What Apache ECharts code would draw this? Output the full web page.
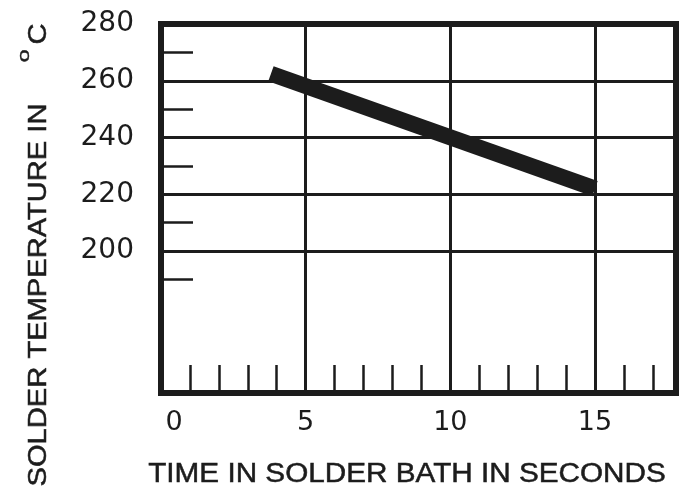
<!DOCTYPE html>
<html>
<head>
<meta charset="utf-8">
<script src="https://cdn.jsdelivr.net/npm/echarts@6/dist/echarts.min.js"></script>
<style>
  html, body { margin: 0; padding: 0; background: #fff; }
  #box { width: 695px; height: 489px; }
</style>
</head>
<body>
<div id="box"></div>
<script>
// solder band: time (s) vs temperature (C)
let bandTime = [3.8, 15];
let bandTemp = [262.5, 222];

// grid lines and ticks
let timeGrid = [5, 10, 15];
let tempGrid = [200, 220, 240, 260];
let timeTicks = [1, 2, 3, 4, 6, 7, 8, 9, 11, 12, 13, 14, 16, 17];
let tempTicks = [190, 210, 230, 250, 270];
let timeLabels = [0.45, 5, 10, 15];
let tempLabels = [200, 220, 240, 260, 280];

window.addEventListener('load', function () {
    let box = document.getElementById('box');
    let mychart = echarts.init(box);
    let ink = '#1c1c1c';

    let bandData = [];
    for (let i = 0; i < bandTime.length; i++) {
        bandData.push([bandTime[i], bandTemp[i]]);
    }
    let gridLines = [];
    timeGrid.forEach(v => gridLines.push({ xAxis: v }));
    tempGrid.forEach(v => gridLines.push({ yAxis: v }));

    let options = {
        animation: false,
        backgroundColor: '#fff',
        grid: {
            left: 161, right: 19, top: 24, bottom: 96,
            show: true, borderColor: ink, borderWidth: 6
        },
        xAxis: {
            type: 'value', min: 0, max: 17.8,
            axisLine: { show: false },
            splitLine: { show: false },
            axisTick: {
                show: true, inside: true, length: 28, customValues: timeTicks,
                lineStyle: { color: ink, width: 2.5 }
            },
            axisLabel: {
                customValues: timeLabels, margin: 16,
                formatter: v => String(Math.round(v)),
                color: ink, fontFamily: 'DejaVu Sans', fontSize: 27
            }
        },
        yAxis: {
            type: 'value', min: 150, max: 280,
            axisLine: { show: false },
            splitLine: { show: false },
            axisTick: {
                show: true, inside: true, length: 32, customValues: tempTicks,
                lineStyle: { color: ink, width: 2.5 }
            },
            axisLabel: {
                customValues: tempLabels, margin: 27,
                color: ink, fontFamily: 'DejaVu Sans', fontSize: 28
            }
        },
        graphic: [
            {
                type: 'text', x: 407, y: 475, scaleX: 1.1,
                style: {
                    text: 'TIME IN SOLDER BATH IN SECONDS', fill: ink,
                    stroke: ink, lineWidth: 0.5,
                    font: '27px "Liberation Sans"', align: 'center', verticalAlign: 'middle'
                }
            },
            {
                type: 'text', x: 39, y: 295, rotation: Math.PI / 2, scaleX: 1.12,
                style: {
                    text: 'SOLDER TEMPERATURE IN', fill: ink,
                    stroke: ink, lineWidth: 0.5,
                    font: '26px "Liberation Sans"', align: 'center', verticalAlign: 'middle'
                }
            },
            {
                type: 'text', x: 24, y: 56, rotation: Math.PI / 2, scaleX: 1.4,
                style: {
                    text: 'o', fill: ink,
                    stroke: ink, lineWidth: 0.4,
                    font: '17px "Liberation Sans"', align: 'center', verticalAlign: 'middle'
                }
            },
            {
                type: 'text', x: 39, y: 34, rotation: Math.PI / 2, scaleX: 1.12,
                style: {
                    text: 'C', fill: ink,
                    stroke: ink, lineWidth: 0.5,
                    font: '26px "Liberation Sans"', align: 'center', verticalAlign: 'middle'
                }
            }
        ],
        series: [
            {
                name: 'grid', type: 'line', data: [], z: 1, silent: true,
                markLine: {
                    silent: true, symbol: ['none', 'none'],
                    label: { show: false },
                    lineStyle: { color: ink, width: 3, type: 'solid' },
                    data: gridLines
                }
            },
            {
                name: 'band', type: 'line', data: bandData, z: 3,
                showSymbol: false, silent: true,
                lineStyle: { color: ink, width: 16, cap: 'butt' }
            }
        ]
    };
    mychart.setOption(options);
});
</script>
</body>
</html>
